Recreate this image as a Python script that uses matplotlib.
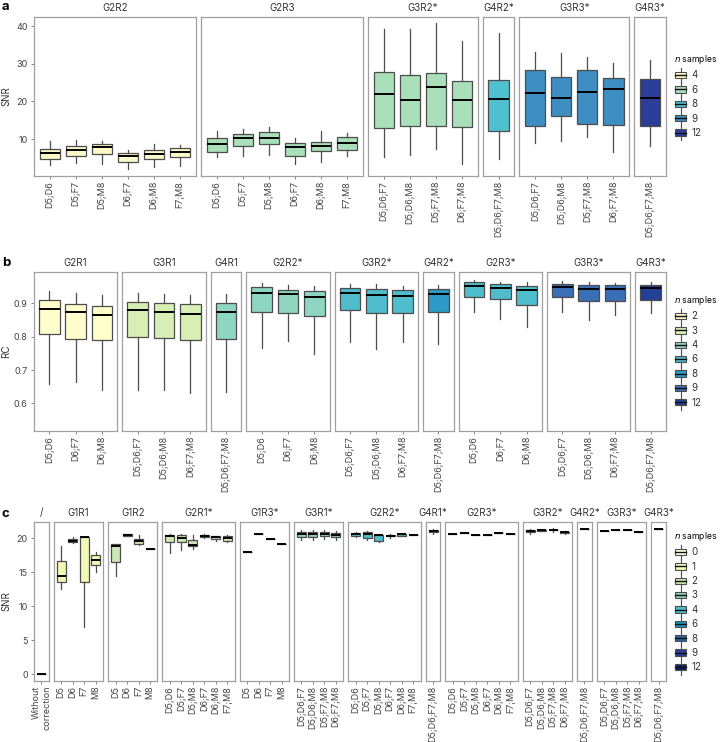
import matplotlib
matplotlib.use('Agg')
import matplotlib.pyplot as plt
from matplotlib.legend_handler import HandlerBase
from matplotlib.patches import Rectangle
from matplotlib.lines import Line2D

plt.rcParams['font.family'] = ['Inter', 'DejaVu Sans']

# ---- shared tick label sets ----
pairs6 = ['D5;D6', 'D5;F7', 'D5;M8', 'D6;F7', 'D6;M8', 'F7;M8']
pairs3 = ['D5;D6', 'D6;F7', 'D6;M8']
trip4 = ['D5;D6;F7', 'D5;D6;M8', 'D5;F7;M8', 'D6;F7;M8']
trip3 = ['D5;D6;F7', 'D5;D6;M8', 'D6;F7;M8']
quad = ['D5;D6;F7;M8']
singles = ['D5', 'D6', 'F7', 'M8']

# ---- panel a : SNR ----
a_groups = ['G2R2', 'G2R3', 'G3R2*', 'G4R2*', 'G3R3*', 'G4R3*']
a_n = [4, 6, 6, 8, 9, 12]
a_labels = [pairs6, pairs6, trip4, quad, trip4, quad]
a_whishi = [[9.6, 9.8, 9.5, 7.1, 8.75, 8.5], [12.05, 12.8, 13.1, 10.35, 12.1, 11.5],
            [39.1, 39.3, 40.7, 36.0], [38.2], [33.2, 32.9, 31.8, 30.2], [30.9]]
a_q3 = [[7.4, 8.2, 8.75, 6.25, 7.05, 7.7], [10.35, 11.4, 12.0, 8.9, 9.2, 10.6],
        [27.7, 27.0, 27.5, 25.3], [25.6], [28.3, 26.6, 28.3, 26.2], [26.0]]
a_med = [[6.25, 7.2, 7.8, 5.5, 6.1, 6.6], [8.6, 10.2, 10.35, 7.9, 8.2, 9.0],
         [22.0, 20.4, 23.75, 20.5], [20.6], [22.3, 20.9, 22.4, 23.3], [20.8]]
a_q1 = [[4.8, 5.5, 6.1, 3.9, 4.8, 5.3], [6.6, 8.1, 8.6, 5.5, 6.9, 7.05],
        [12.9, 13.6, 13.6, 13.1], [12.1], [13.6, 16.0, 14.1, 13.8], [13.6]]
a_whislo = [[3.1, 3.7, 3.5, 2.0, 2.5, 2.8], [5.2, 5.5, 5.9, 3.3, 4.0, 5.4],
            [5.2, 5.9, 7.3, 3.5], [4.6], [8.9, 9.5, 10.5, 6.5], [8.1]]

# ---- panel b : RC ----
b_groups = ['G2R1', 'G3R1', 'G4R1', 'G2R2*', 'G3R2*', 'G4R2*', 'G2R3*', 'G3R3*', 'G4R3*']
b_n = [2, 3, 4, 4, 6, 8, 6, 9, 12]
b_labels = [pairs3, trip3, quad, pairs3, trip3, quad, pairs3, trip3, quad]
b_whishi = [[0.937, 0.931, 0.924], [0.931, 0.928, 0.926], [0.928], [0.962, 0.954, 0.953],
            [0.958, 0.958, 0.953], [0.955], [0.971, 0.963, 0.963], [0.966, 0.965, 0.962], [0.964]]
b_q3 = [[0.91, 0.899, 0.893], [0.903, 0.901, 0.897], [0.9], [0.949, 0.941, 0.937],
        [0.945, 0.942, 0.939], [0.942], [0.963, 0.957, 0.952], [0.958, 0.956, 0.954], [0.954]]
b_med = [[0.882, 0.875, 0.865], [0.881, 0.873, 0.867], [0.874], [0.932, 0.929, 0.918],
         [0.93, 0.925, 0.923], [0.927], [0.951, 0.945, 0.94], [0.949, 0.944, 0.943], [0.947]]
b_q1 = [[0.809, 0.794, 0.791], [0.798, 0.795, 0.79], [0.794], [0.873, 0.87, 0.861],
        [0.879, 0.87, 0.87], [0.875], [0.92, 0.914, 0.894], [0.919, 0.906, 0.906], [0.91]]
b_whislo = [[0.658, 0.664, 0.641], [0.64, 0.641, 0.632], [0.635], [0.767, 0.788, 0.749],
            [0.784, 0.764, 0.784], [0.779], [0.873, 0.854, 0.829], [0.875, 0.851, 0.864], [0.87]]

# ---- panel c : SNR after correction ----
c_groups = ['/', 'G1R1', 'G1R2', 'G2R1*', 'G1R3*', 'G3R1*', 'G2R2*', 'G4R1*',
            'G2R3*', 'G3R2*', 'G4R2*', 'G3R3*', 'G4R3*']
c_n = [0, 1, 2, 2, 3, 3, 4, 4, 6, 6, 8, 9, 12]
c_labels = [['Without\ncorrection'], singles, singles, pairs6, singles, trip4, pairs6, quad,
            pairs6, trip4, quad, trip4, quad]
c_whishi = [[0.0], [18.8, 20.2, 20.2, 18.0], [19.2, 20.7, 20.5, 18.5],
            [20.6, 20.6, 20.5, 20.6, 20.4, 20.5], [18.0, 20.7, 19.9, 19.1],
            [21.2, 21.2, 21.18, 21.13], [20.98, 21.1, 20.64, 20.7, 20.8, 20.55], [21.4],
            [20.64, 20.83, 20.54, 20.54, 20.83, 20.69], [21.32, 21.27, 21.47, 21.05], [21.3],
            [21.1, 21.15, 21.25, 21.0], [21.3]]
c_q3 = [[0.0], [16.6, 19.9, 20.2, 17.5], [19.1, 20.6, 19.9, 18.5],
        [20.45, 20.45, 19.7, 20.5, 20.3, 20.3], [18.0, 20.7, 19.9, 19.1],
        [20.93, 20.93, 20.88, 20.83], [20.83, 20.98, 20.5, 20.5, 20.7, 20.55], [21.2],
        [20.64, 20.83, 20.54, 20.54, 20.83, 20.69], [21.23, 21.2, 21.26, 20.98], [21.3],
        [21.1, 21.15, 21.25, 21.0], [21.3]]
c_med = [[0.0], [14.4, 19.66, 20.2, 16.85], [18.9, 20.5, 19.6, 18.5],
         [20.3, 20.0, 19.0, 20.35, 20.15, 20.05], [18.0, 20.7, 19.9, 19.1],
         [20.59, 20.64, 20.64, 20.54], [20.64, 20.64, 20.5, 20.4, 20.6, 20.5], [21.1],
         [20.64, 20.83, 20.54, 20.54, 20.83, 20.69], [21.08, 21.15, 21.23, 20.88], [21.3],
         [21.1, 21.15, 21.25, 21.0], [21.3]]
c_q1 = [[0.0], [13.5, 19.4, 13.6, 16.0], [16.5, 20.4, 19.2, 18.5],
        [19.4, 19.5, 18.9, 20.15, 19.9, 19.65], [18.0, 20.7, 19.9, 19.1],
        [20.15, 20.2, 20.34, 20.15], [20.3, 20.1, 19.65, 20.3, 20.4, 20.5], [20.9],
        [20.64, 20.83, 20.54, 20.54, 20.83, 20.69], [20.88, 21.1, 21.2, 20.74], [21.3],
        [21.1, 21.15, 21.25, 21.0], [21.3]]
c_whislo = [[0.0], [12.6, 19.3, 7.0, 15.0], [14.4, 20.35, 19.0, 18.5],
            [17.9, 18.3, 18.4, 20.1, 19.6, 19.4], [18.0, 20.7, 19.9, 19.1],
            [19.75, 19.8, 19.9, 19.8], [20.2, 19.7, 19.5, 20.0, 20.4, 20.45], [20.6],
            [20.64, 20.83, 20.54, 20.54, 20.83, 20.69], [20.59, 21.05, 20.93, 20.7], [21.3],
            [21.1, 21.15, 21.25, 21.0], [21.3]]

# colours (YlGnBu-like) per number of samples
pal_a = {4: '#fcf9c9', 6: '#a9dfb9', 8: '#4fc0cf', 9: '#3e8ec3', 12: '#2c3c99'}
pal_b = {2: '#ffffcc', 3: '#d7efb5', 4: '#8ed5c2', 6: '#50bdcd', 8: '#2b9ac6', 9: '#3a6fb6', 12: '#233f96'}
pal_c = {0: '#ffffd9', 1: '#f2f9b6', 2: '#cbe8b4', 3: '#8fd0bd', 4: '#4fbecf', 6: '#1f94c1',
         8: '#2766ad', 9: '#283f98', 12: '#0d2262'}

W, H = 720, 742
fig = plt.figure(figsize=(7.2, 7.42), dpi=100)
TXT = '#444444'
EDGE = '#4d4d4d'


class BoxKey(HandlerBase):
    # legend key drawn like a tiny boxplot
    def create_artists(self, legend, orig_handle, xdescent, ydescent, width, height, fontsize, trans):
        x0, y0 = -xdescent, -ydescent
        cx = x0 + width / 2
        wl = Line2D([cx, cx], [y0 - 2.5, y0 + height + 2.5], color=EDGE, lw=0.8, transform=trans)
        box = Rectangle((x0 + 1, y0 + height * 0.1), width - 2, height * 0.8,
                        facecolor=orig_handle.get_facecolor(), edgecolor=EDGE, lw=0.8, transform=trans)
        md = Line2D([x0 + 1, x0 + width - 1], [y0 + height / 2] * 2, color='#111111', lw=1.0, transform=trans)
        return [wl, box, md]


def draw_row(groups, nsamp, labels, lo, q1, med, q3, hi, palette, top, bottom, ylim, yticks,
             ylabel, pad, letter, letter_y, leg_y):
    x_left, x_right, gap = 34, 666, 5
    sizes = [len(l) + pad for l in labels]
    unit = (x_right - x_left - gap * (len(groups) - 1)) / sum(sizes)
    x = x_left
    for i, g in enumerate(groups):
        w = sizes[i] * unit
        ax = fig.add_axes([x / W, 1 - bottom / H, w / W, (bottom - top) / H])
        x += w + gap
        stats = []
        for j, lab in enumerate(labels[i]):
            stats.append(dict(label=lab, whislo=lo[i][j], q1=q1[i][j], med=med[i][j],
                              q3=q3[i][j], whishi=hi[i][j]))
        ax.bxp(stats, widths=0.78, patch_artist=True, showfliers=False, showcaps=False,
               boxprops=dict(facecolor=palette[nsamp[i]], edgecolor=EDGE, linewidth=0.9),
               whiskerprops=dict(color=EDGE, linewidth=0.9),
               medianprops=dict(color='black', linewidth=1.4))
        ax.set_xlim(0.5 - pad / 2, len(labels[i]) + 0.5 + pad / 2)
        ax.set_ylim(*ylim)
        for s in ax.spines.values():
            s.set_color('#a0a0a0')
            s.set_linewidth(0.9)
        ax.tick_params(axis='x', labelrotation=90, labelsize=6.5, labelcolor=TXT,
                       color='#888888', length=2, width=0.7, pad=1.5)
        for t in ax.get_xticklabels():
            t.set_multialignment('right')
        if i == 0:
            ax.set_yticks(yticks)
            ax.tick_params(axis='y', labelsize=6.5, labelcolor=TXT, color='#888888',
                           length=2.5, width=0.7, pad=2)
        else:
            ax.set_yticks([])
        ax.set_title(g, fontsize=7, color='#333333', pad=4)
    fig.text(6 / W, 1 - (top + bottom) / 2 / H, ylabel, rotation=90, ha='center', va='center',
             fontsize=7, color='#333333')
    fig.text(2 / W, 1 - letter_y / H, letter, fontsize=9.5, fontweight='bold', ha='left', va='center')
    keys = sorted(palette)
    handles = [Rectangle((0, 0), 1, 1, facecolor=palette[k]) for k in keys]
    fig.legend(handles, [str(k) for k in keys], handler_map={Rectangle: BoxKey()},
               loc='upper left', bbox_to_anchor=(674 / W, 1 - leg_y / H),
               bbox_transform=fig.transFigure, frameon=False,
               title=r'$\it{n}$ samples', title_fontsize=6.2, fontsize=7, alignment='left',
               handlelength=1.35, handleheight=0.9, labelspacing=0.45, handletextpad=0.4,
               borderpad=0, borderaxespad=0, labelcolor='#333333')


draw_row(a_groups, a_n, a_labels, a_whislo, a_q1, a_med, a_q3, a_whishi, pal_a,
         17, 176, (0.2, 42.4), [10, 20, 30, 40], 'SNR', 0.22, 'a', 7, 53)
draw_row(b_groups, b_n, b_labels, b_whislo, b_q1, b_med, b_q3, b_whishi, pal_b,
         272, 431, (0.517, 0.994), [0.6, 0.7, 0.8, 0.9], 'RC', 0.16, 'b', 263, 294)
draw_row(c_groups, c_n, c_labels, c_whislo, c_q1, c_med, c_q3, c_whishi, pal_c,
         522, 681, (-1.0, 22.4), [0, 5, 10, 15, 20], 'SNR', 0.29, 'c', 514, 530)

fig.savefig('out.png', dpi=100)
